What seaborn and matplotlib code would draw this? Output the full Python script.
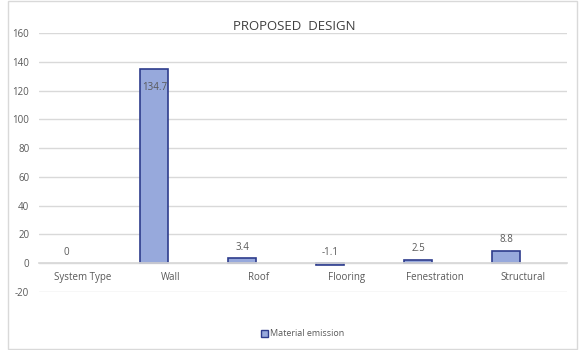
import matplotlib
matplotlib.use("Agg")
import matplotlib.pyplot as plt
import seaborn as sns
import pandas as pd
from matplotlib.patches import Rectangle, Patch

categories = ["System Type", "Wall", "Roof", "Flooring", "Fenestration", "Structural"]
values = [0, 134.7, 3.4, -1.1, 2.5, 8.8]
labels = ["0", "134.7", "3.4", "-1.1", "2.5", "8.8"]
yticks = [-20, 0, 20, 40, 60, 80, 100, 120, 140, 160]
series_name = "Material emission"
empty_series = " "  # second (empty) series slot, as in the original clustered chart
title = "PROPOSED  DESIGN"

df = pd.DataFrame({"category": categories, "value": values,
                   "series": [series_name] * len(categories)})

sns.set_theme(style="white")
plt.rcParams["font.family"] = ["Open Sans", "DejaVu Sans"]

fig = plt.figure(figsize=(5.79, 3.5), dpi=100)
ax = fig.add_axes([39/579, 1-292/350, (567-39)/579, (292-33)/350])

fill = "#97A9DC"
edge = "#2E3C8C"
txt = "#595959"

sns.barplot(data=df, x="category", y="value", hue="series",
            hue_order=[series_name, empty_series], order=categories,
            palette={series_name: fill, empty_series: fill},
            ax=ax, width=0.76, gap=0.16, dodge=True,
            edgecolor=edge, linewidth=1.2, saturation=1, legend=False)

ax.set_ylim(-20, 160)
ax.set_yticks(yticks)
ax.set_yticklabels([str(t) for t in yticks], fontsize=7, color=txt)
ax.grid(axis="y", color="#D9D9D9", linewidth=1)
ax.set_axisbelow(True)
for s in ["top", "right", "left"]:
    ax.spines[s].set_visible(False)
ax.spines["bottom"].set_position(("data", 0))
ax.spines["bottom"].set_color("#D9D9D9")
ax.tick_params(axis="both", length=0)
ax.tick_params(axis="x", pad=6, labelsize=7, labelcolor=txt)
ax.tick_params(axis="y", pad=7)
ax.set_xlabel("")
ax.set_ylabel("")
ax.set_xlim(-0.5, len(categories) - 0.5)

bars = ax.containers[0]
for p, v, lab in zip(bars.patches, values, labels):
    cx = p.get_x() + p.get_width() / 2
    if v == 0:
        p.set_linewidth(0)
    if v > 100:
        ax.annotate(lab, xy=(cx, v), xytext=(0, -13), textcoords="offset points",
                    ha="center", va="center", fontsize=7, color=txt)
    else:
        ax.annotate(lab, xy=(cx, max(v, 0)), xytext=(0, 4), textcoords="offset points",
                    ha="center", va="bottom", fontsize=7, color=txt)

fig.text(294/579, 1-26/350, title, ha="center", va="center", fontsize=9.5, color="#404040")

handle = Patch(facecolor=fill, edgecolor=edge, linewidth=1)
fig.legend([handle], [series_name], loc="center", bbox_to_anchor=(303/579, 1-334/350),
           frameon=False, fontsize=6.5, handlelength=0.7, handleheight=0.7,
           handletextpad=0.3, labelcolor=txt)

fig.patches.append(Rectangle((8/579, 0.002), (577-8)/579, 0.995, transform=fig.transFigure,
                             fill=False, edgecolor="#D9D9D9", linewidth=1))

fig.savefig("out.png", dpi=100)
